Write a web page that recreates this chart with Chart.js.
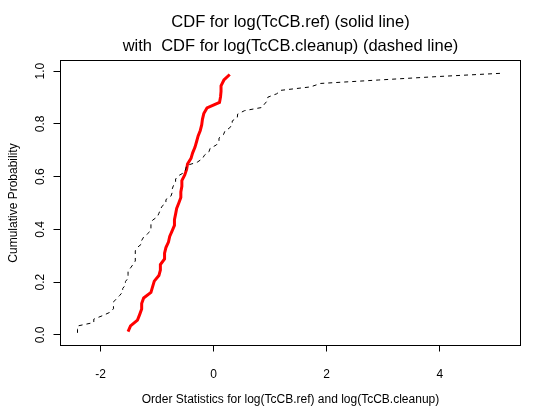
<!DOCTYPE html>
<html><head><meta charset="utf-8">
<script src="https://cdn.jsdelivr.net/npm/chart.js@4/dist/chart.umd.min.js"></script>
<style>html,body{margin:0;padding:0;background:#fff;}canvas{display:block;}</style>
</head><body>
<canvas id="c" width="551" height="420"></canvas>
<script>
// ---- text ----
const titleLines = ["CDF for log(TcCB.ref) (solid line)", "with  CDF for log(TcCB.cleanup) (dashed line)"];
const xAxisTitle = "Order Statistics for log(TcCB.ref) and log(TcCB.cleanup)";
const yAxisTitle = "Cumulative Probability";
const xTickValues = [-2, 0, 2, 4];
const xTickLabels = ["-2", "0", "2", "4"];
const yTickValues = [0, 0.2, 0.4, 0.6, 0.8, 1.0];
const yTickLabels = ["0.0", "0.2", "0.4", "0.6", "0.8", "1.0"];
const xRange = [-2.709, 5.429];
const yRange = [-0.04, 1.04];

// ---- series: log(TcCB.ref) order statistics and cumulative probabilities ----
const refX = [-1.514,-1.470,-1.347,-1.309,-1.273,-1.273,-1.238,-1.109,-1.079,-1.050,
  -0.968,-0.942,-0.942,-0.868,-0.868,-0.844,-0.799,-0.777,-0.734,-0.693,
  -0.693,-0.673,-0.654,-0.616,-0.580,-0.580,-0.562,-0.562,-0.511,-0.478,
  -0.462,-0.400,-0.371,-0.329,-0.301,-0.274,-0.236,-0.211,-0.198,-0.174,
  -0.117,0.104,0.122,0.131,0.131,0.182,0.285];
const refY = [0.013,0.034,0.056,0.077,0.098,0.119,0.140,0.161,0.183,0.204,
  0.225,0.246,0.267,0.288,0.310,0.331,0.352,0.373,0.394,0.415,
  0.437,0.458,0.479,0.500,0.521,0.542,0.563,0.585,0.606,0.627,
  0.648,0.669,0.690,0.712,0.733,0.754,0.775,0.796,0.817,0.839,
  0.860,0.881,0.902,0.923,0.944,0.966,0.987];

// ---- series: log(TcCB.cleanup) order statistics and cumulative probabilities ----
const cleanX = [-2.408,-2.408,-2.408,-2.120,-2.120,-1.966,-1.833,-1.772,-1.772,-1.772,
  -1.715,-1.661,-1.609,-1.609,-1.561,-1.561,-1.514,-1.514,-1.514,-1.470,
  -1.427,-1.386,-1.386,-1.386,-1.386,-1.347,-1.273,-1.273,-1.238,-1.171,
  -1.109,-1.109,-1.109,-1.079,-0.994,-0.968,-0.942,-0.916,-0.844,-0.844,
  -0.755,-0.734,-0.734,-0.713,-0.673,-0.673,-0.616,-0.511,-0.494,-0.478,
  -0.288,-0.198,-0.163,-0.083,-0.062,0.049,0.095,0.095,0.174,0.199,
  0.285,0.329,0.329,0.419,0.425,0.548,0.854,0.900,0.952,0.959,
  1.118,1.191,1.716,1.889,2.912,3.951,5.128];
const cleanY = [0.008,0.021,0.034,0.047,0.060,0.073,0.086,0.099,0.112,0.125,
  0.138,0.150,0.163,0.176,0.189,0.202,0.215,0.228,0.241,0.254,
  0.267,0.280,0.293,0.306,0.319,0.332,0.345,0.358,0.371,0.383,
  0.396,0.409,0.422,0.435,0.448,0.461,0.474,0.487,0.500,0.513,
  0.526,0.539,0.552,0.565,0.578,0.591,0.604,0.617,0.629,0.642,
  0.655,0.668,0.681,0.694,0.707,0.720,0.733,0.746,0.759,0.772,
  0.785,0.798,0.811,0.824,0.837,0.850,0.862,0.875,0.888,0.901,
  0.914,0.927,0.940,0.953,0.966,0.979,0.992];

const FONT = '"Liberation Sans", Arial, Helvetica, sans-serif';

const rStyle = {
  id: 'rStyle',
  afterDraw(chart) {
    const ctx = chart.ctx, a = chart.chartArea, xs = chart.scales.x, ys = chart.scales.y;
    ctx.save();
    ctx.strokeStyle = '#000';
    ctx.lineWidth = 1;
    const L = Math.floor(a.left), R = Math.floor(a.right), T = Math.floor(a.top), B = Math.floor(a.bottom);
    ctx.strokeRect(L + 0.5, T + 0.5, R - L, B - T);
    ctx.fillStyle = '#000';
    ctx.font = '12px ' + FONT;
    ctx.textAlign = 'center';
    ctx.textBaseline = 'alphabetic';
    xTickValues.forEach((v, i) => ctx.fillText(xTickLabels[i], xs.getPixelForValue(v), 378));
    yTickValues.forEach((v, i) => {
      ctx.save();
      ctx.translate(44, ys.getPixelForValue(v));
      ctx.rotate(-Math.PI / 2);
      ctx.fillText(yTickLabels[i], 0, 0);
      ctx.restore();
    });
    const cx = (a.left + a.right) / 2, cy = (a.top + a.bottom) / 2;
    ctx.fillText(xAxisTitle, cx, 403);
    ctx.save();
    ctx.translate(17, cy);
    ctx.rotate(-Math.PI / 2);
    ctx.fillText(yAxisTitle, 0, 0);
    ctx.restore();
    ctx.font = '16.5px ' + FONT;
    ctx.fillText(titleLines[0], cx, 27);
    ctx.fillText(titleLines[1], cx, 51);
    ctx.restore();
  }
};

new Chart(document.getElementById('c'), {
  type: 'line',
  data: {
    datasets: [
      {
        label: 'log(TcCB.ref)',
        data: refX.map((x, i) => ({ x: x, y: refY[i] })),
        borderColor: '#ff0000',
        borderWidth: 3,
        pointRadius: 0,
        tension: 0,
        fill: false,
        order: 2
      },
      {
        label: 'log(TcCB.cleanup)',
        data: cleanX.map((x, i) => ({ x: x, y: cleanY[i] })),
        borderColor: '#000000',
        borderWidth: 1,
        borderDash: [4, 4],
        pointRadius: 0,
        tension: 0,
        fill: false,
        order: 1
      }
    ]
  },
  options: {
    responsive: false,
    animation: false,
    devicePixelRatio: 1,
    layout: { padding: { top: 60.5, right: 30.5, left: 0, bottom: 0 } },
    plugins: { legend: { display: false }, tooltip: { enabled: false }, title: { display: false } },
    scales: {
      x: {
        type: 'linear',
        position: 'bottom',
        min: xRange[0],
        max: xRange[1],
        afterBuildTicks: s => { s.ticks = xTickValues.map(v => ({ value: v })); },
        afterFit: s => { s.height = 74.5; },
        grid: { drawOnChartArea: false, drawTicks: true, tickLength: 6, color: '#000', lineWidth: 1 },
        border: { display: false },
        ticks: { display: false }
      },
      y: {
        type: 'linear',
        position: 'left',
        min: yRange[0],
        max: yRange[1],
        afterBuildTicks: s => { s.ticks = yTickValues.map(v => ({ value: v })); },
        afterFit: s => { s.width = 60.5; },
        grid: { drawOnChartArea: false, drawTicks: true, tickLength: 7, color: '#000', lineWidth: 1 },
        border: { display: false },
        ticks: { display: false }
      }
    }
  },
  plugins: [rStyle]
});
</script>
</body></html>
